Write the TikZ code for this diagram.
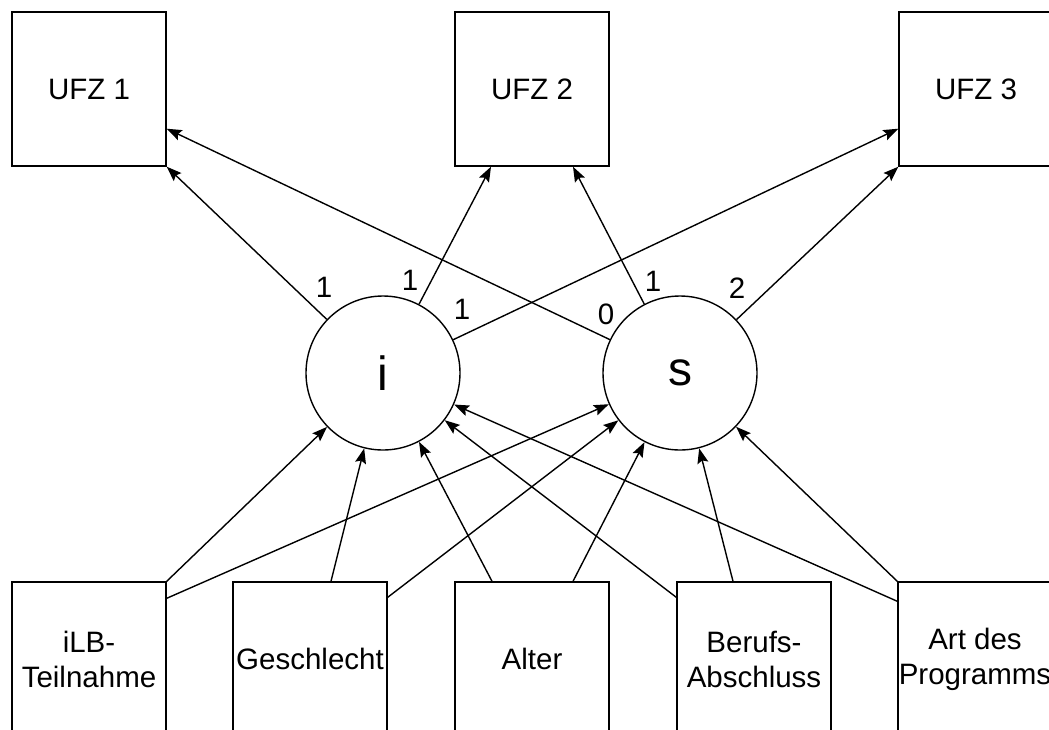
\documentclass[tikz,border=0pt]{standalone}
\usepackage{fontspec}
\setmainfont{Liberation Sans}
\usetikzlibrary{arrows.meta}

\begin{document}
\begin{tikzpicture}[x=1pt,y=-1pt,
		box/.style={draw, line width=1.4pt, minimum width=154pt, minimum height=154pt, inner sep=0pt, align=center, font=\fontsize{29.5}{35}\selectfont},
		latent/.style={draw, circle, line width=1.4pt, minimum size=154pt, inner sep=0pt, font=\fontsize{48}{48}\selectfont},
		pfeil/.style={line width=1.4pt, -{Stealth[length=15pt,width=11pt,inset=2.5pt]}},
		ladung/.style={inner sep=0pt, font=\fontsize{29.5}{29.5}\selectfont}]
		\useasboundingbox (0,0) rectangle (1049,729);
		\clip (0,0) rectangle (1049,729);
		
		\node[box] (ufz1) at (89,89) {UFZ 1};
		\node[box] (ufz2) at (532,89) {UFZ 2};
		\node[box] (ufz3) at (976,89) {UFZ 3};
		
		\node[latent] (i) at (383,373) {i};
		\node[latent] (s) at (680,373) {s};
		
		\node[box] (ilb) at (89,659) {iLB-\\Teilnahme};
		\node[box] (geschl) at (310,659) {Geschlecht};
		\node[box] (alter) at (532,659) {Alter};
		\node[box] (beruf) at (754,659) {Berufs-\\Abschluss};
		\node[box] (art) at (975,659) {Art des\\Programms};
		
		\draw[pfeil] (i) -- (ufz1.south east);
		\draw[pfeil] (s) -- ([yshift=38pt]ufz1.south east);
		\draw[pfeil] (i) -- ([xshift=-41pt]ufz2.south);
		\draw[pfeil] (s) -- ([xshift=41pt]ufz2.south);
		\draw[pfeil] (i) -- ([yshift=38pt]ufz3.south west);
		\draw[pfeil] (s) -- (ufz3.south west);
		
		\draw[pfeil] (ilb.north east) -- (i);
		\draw[pfeil] ([yshift=-17pt]ilb.north east) -- (s);
		\draw[pfeil] ([xshift=21pt]geschl.north) -- (i);
		\draw[pfeil] ([yshift=-16pt]geschl.north east) -- (s);
		\draw[pfeil] ([xshift=-40pt]alter.north) -- (i);
		\draw[pfeil] ([xshift=41pt]alter.north) -- (s);
		\draw[pfeil] ([yshift=-16pt]beruf.north west) -- (i);
		\draw[pfeil] ([xshift=-21pt]beruf.north) -- (s);
		\draw[pfeil] (art.north west) -- (s);
		\draw[pfeil] ([yshift=-20pt]art.north west) -- (i);
		
		\node[ladung] (li1) at (324,287) {1};
		\node[ladung] (li2) at (410,280) {1};
		\node[ladung] (li3) at (462,309) {1};
		\node[ladung] (ls1) at (606,314) {0};
		\node[ladung] (ls2) at (653,281) {1};
		\node[ladung] (ls3) at (737,288) {2};
	\end{tikzpicture}
\end{document}
